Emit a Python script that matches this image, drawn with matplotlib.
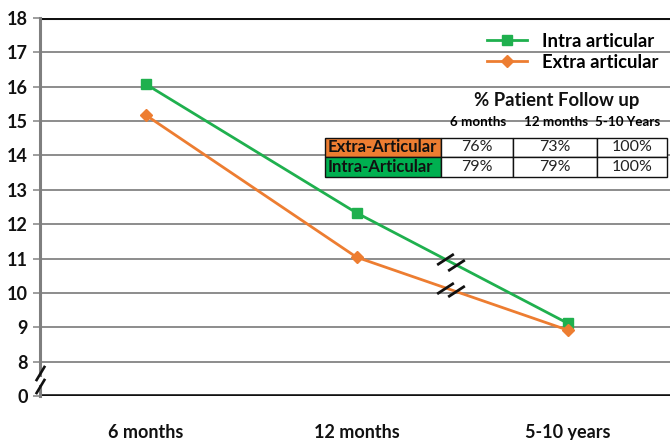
import matplotlib
matplotlib.use("Agg")
import matplotlib.pyplot as plt
from matplotlib.path import Path
import matplotlib.transforms as mtransforms

categories = ["6 months", "12 months", "5-10 years"]
intra = [16.08, 12.33, 9.12]
extra = [15.18, 11.04, 8.92]
ytick_vals = [7, 8, 9, 10, 11, 12, 13, 14, 15, 16, 17, 18]
ytick_labels = ["0", "8", "9", "10", "11", "12", "13", "14", "15", "16", "17", "18"]

table_title = "% Patient Follow up"
table_cols = ["6 months", "12 months", "5-10 Years"]
table_rows = ["Extra-Articular", "Intra-Articular"]
table_vals = [["76%", "73%", "100%"], ["79%", "79%", "100%"]]

GREEN = "#1fb04e"
ORANGE = "#ed7d31"
FONT = ["Lato", "DejaVu Sans"]
plt.rcParams["font.family"] = FONT

fig = plt.figure(figsize=(6.7, 4.4), dpi=100)
ax = fig.add_axes([40 / 670, 1 - 396 / 440, 633 / 670, 378 / 440])
ax.set_xlim(-0.5, 2.5)
ax.set_ylim(7, 18)

# grid
for v in ytick_vals[1:-1]:
    ax.axhline(v, color="#8c8c8c", lw=1.4, zorder=1)
ax.axhline(18, color="#111111", lw=2.2, zorder=2)
ax.axhline(7, color="#111111", lw=2.6, zorder=2)

for s in ax.spines.values():
    s.set_visible(False)

# left spine with break
tr = mtransforms.blended_transform_factory(ax.transAxes, ax.transData)
ax.plot([0, 0], [7.62, 18], color="#7f7f7f", lw=2.2, transform=tr, clip_on=False, zorder=3)
ax.plot([0, 0], [7.0, 7.3], color="#7f7f7f", lw=2.2, transform=tr, clip_on=False, zorder=3)
slash_v = Path([(-0.6, -1), (0.6, 1)], [Path.MOVETO, Path.LINETO])
ax.plot([0, 0], [7.68, 7.3], linestyle="none", marker=slash_v, markersize=11,
        mec="#111111", mew=1.9, transform=tr, clip_on=False, zorder=4)

ax.set_yticks(ytick_vals)
ax.set_yticklabels(ytick_labels, fontsize=13, fontweight="bold", color="#111111")
ax.tick_params(axis="y", length=5, width=1.2, color="#8c8c8c", pad=4)
ax.set_xticks(range(len(categories)))
ax.set_xticklabels(categories, fontsize=13, fontweight="bold", color="#111111")
ax.tick_params(axis="x", length=0, pad=20)

x = list(range(len(categories)))
ax.plot(x, intra, color=GREEN, lw=2.0, marker="s", markersize=7, label="Intra articular", zorder=5)
ax.plot(x, extra, color=ORANGE, lw=2.0, marker="D", markersize=6.5, label="Extra articular", zorder=5)

# line break marks between 12 months and 5-10 years
slash_l = Path([(-1, -0.65), (1, 0.65)], [Path.MOVETO, Path.LINETO])
for series in (intra, extra):
    for f in (0.42, 0.47):
        xv = 1 + f
        yv = series[1] + f * (series[2] - series[1])
        ax.plot([xv], [yv], linestyle="none", marker=slash_l, markersize=12,
                mec="#111111", mew=2.0, zorder=6)

leg = ax.legend(loc="upper right", bbox_to_anchor=(0.995, 0.99), frameon=False,
                prop={"family": FONT, "weight": "bold", "size": 13.3},
                handlelength=2.2, labelspacing=0.2, handletextpad=0.8,
                borderaxespad=0.2)

# table title
ax.text((557 - 40) / 633, (396 - 100) / 378, table_title, transform=ax.transAxes,
        ha="center", va="center", fontsize=13.3, fontweight="bold", color="#111111")

# table
cell_text = [[""] + table_cols] + [[r] + v for r, v in zip(table_rows, table_vals)]
col_w = [116, 72, 84, 70]
tot = sum(col_w)
tbl = ax.table(cellText=cell_text, colWidths=[w / tot for w in col_w],
               bbox=[(325 - 40) / 633, (396 - 177) / 378, 342 / 633, 59 / 378],
               zorder=7)
tbl.auto_set_font_size(False)
row_colors = [ORANGE, "#00b050"]
for (r, c), cell in tbl.get_celld().items():
    cell.set_linewidth(1.0)
    cell.set_edgecolor("#111111")
    t = cell.get_text()
    t.set_fontfamily(FONT)
    if r == 0:
        cell.visible_edges = ""
        cell.set_facecolor("none")
        t.set_fontsize(9.6)
        t.set_fontweight("bold")
        t.set_va("bottom")
    elif c == 0:
        cell.set_facecolor(row_colors[r - 1])
        t.set_fontsize(12)
        t.set_fontweight("bold")
        t.set_color("#111111")
        t.set_ha("left")
        cell.PAD = 0.02
    else:
        cell.set_facecolor("white")
        t.set_fontsize(11.5)
        t.set_ha("center")
        t.set_color("#222222")

fig.savefig("out.png", dpi=100)
